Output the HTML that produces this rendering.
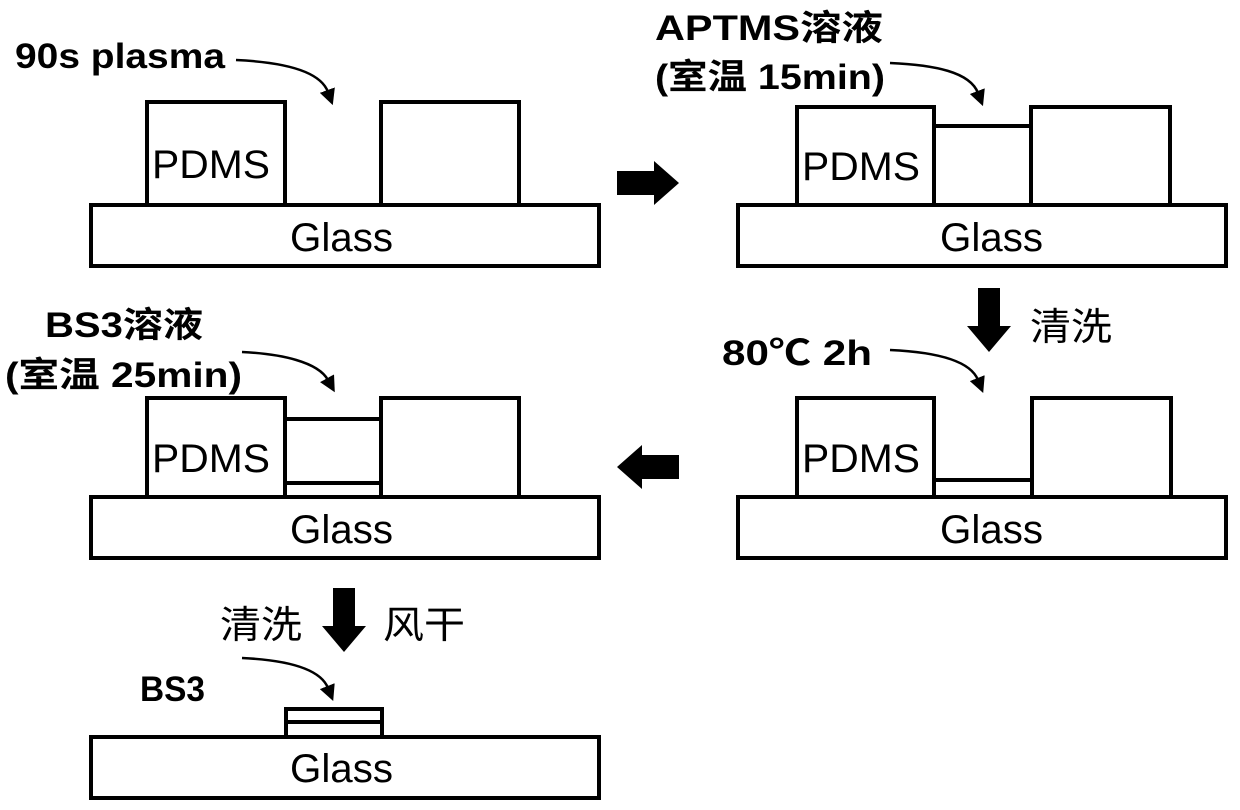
<!DOCTYPE html><html><head><meta charset="utf-8"><style>body{margin:0;background:#fff}svg{display:block}
text{font-family:"Liberation Sans","Noto Sans CJK SC",sans-serif;fill:#000}
.b{font-weight:bold;font-size:35px}.n{font-size:40px}.c{font-size:38px}</style></head><body>
<svg width="1240" height="810" viewBox="0 0 1240 810">
<defs><marker id="a2" markerWidth="16" markerHeight="16" refX="2" refY="8" orient="auto" markerUnits="userSpaceOnUse"><path d="M0,0 L16,8 L0,16z"/></marker></defs>
<g fill="none" stroke="#000" stroke-width="4">
<rect x="91" y="205" width="508" height="61"/><rect x="147" y="102" width="138" height="103"/><rect x="381" y="102" width="138" height="103"/>
<rect x="738" y="205" width="488" height="61"/><rect x="797" y="107" width="137" height="98"/><rect x="1031" y="107" width="139" height="98"/><line x1="934" y1="126" x2="1031" y2="126"/>
<rect x="738" y="497" width="488" height="61"/><rect x="797" y="398" width="137" height="99"/><rect x="1032" y="398" width="139" height="99"/><line x1="934" y1="480" x2="1032" y2="480"/>
<rect x="91" y="497" width="508" height="61"/><rect x="147" y="398" width="138" height="99"/><rect x="381" y="398" width="138" height="99"/><line x1="285" y1="419" x2="381" y2="419"/><line x1="285" y1="483" x2="381" y2="483"/>
<rect x="91" y="737" width="508" height="61"/><rect x="286" y="709" width="96" height="28"/><line x1="286" y1="722" x2="382" y2="722"/>
<g stroke-width="2.5">
<path d="M236,60 C280,62 320,70 328,92" marker-end="url(#a2)"/>
<path d="M890,63 C935,65 970,72 978,93" marker-end="url(#a2)"/>
<path d="M890,350 C935,352 970,360 978,380" marker-end="url(#a2)"/>
<path d="M242,352 C282,354 318,362 328,380" marker-end="url(#a2)"/>
<path d="M242,658 C285,660 320,668 328,688" marker-end="url(#a2)"/>
</g></g>
<path d="M617,171 L654,171 L654,161 L679,183 L654,205 L654,195 L617,195z"/>
<path d="M978,288 L1000,288 L1000,326 L1011,326 L989,352 L967,326 L978,326z"/>
<path d="M679,455 L642,455 L642,445 L617,467 L642,489 L642,479 L679,479z"/>
<path d="M333,588 L355,588 L355,626 L366,626 L344,652 L322,626 L333,626z"/>
<text class="b" x="15" y="68" textLength="210" lengthAdjust="spacingAndGlyphs">90s plasma</text>
<text class="b" x="655" y="40" textLength="228" lengthAdjust="spacingAndGlyphs">APTMS溶液</text>
<text class="b" x="655" y="89" textLength="230" lengthAdjust="spacingAndGlyphs">(室温 15min)</text>
<text class="b" x="722" y="365" textLength="150" lengthAdjust="spacingAndGlyphs">80℃ 2h</text>
<text class="b" x="45" y="337" textLength="158" lengthAdjust="spacingAndGlyphs">BS3溶液</text>
<text class="b" x="5" y="387" textLength="237" lengthAdjust="spacingAndGlyphs">(室温 25min)</text>
<text class="b" x="140" y="701" textLength="65" lengthAdjust="spacingAndGlyphs">BS3</text>
<text class="c" x="1030" y="340" textLength="82" lengthAdjust="spacingAndGlyphs">清洗</text>
<text class="c" x="220" y="638" textLength="82" lengthAdjust="spacingAndGlyphs">清洗</text>
<text class="c" x="383" y="638" textLength="82" lengthAdjust="spacingAndGlyphs">风干</text>
<text class="n" x="152" y="178" textLength="118" lengthAdjust="spacingAndGlyphs">PDMS</text><text class="n" x="802" y="180" textLength="118" lengthAdjust="spacingAndGlyphs">PDMS</text>
<text class="n" x="802" y="472" textLength="118" lengthAdjust="spacingAndGlyphs">PDMS</text><text class="n" x="152" y="472" textLength="118" lengthAdjust="spacingAndGlyphs">PDMS</text>
<text class="n" x="290" y="251" textLength="103" lengthAdjust="spacingAndGlyphs">Glass</text><text class="n" x="940" y="251" textLength="103" lengthAdjust="spacingAndGlyphs">Glass</text>
<text class="n" x="940" y="543" textLength="103" lengthAdjust="spacingAndGlyphs">Glass</text><text class="n" x="290" y="543" textLength="103" lengthAdjust="spacingAndGlyphs">Glass</text>
<text class="n" x="290" y="782" textLength="103" lengthAdjust="spacingAndGlyphs">Glass</text>
</svg></body></html>
